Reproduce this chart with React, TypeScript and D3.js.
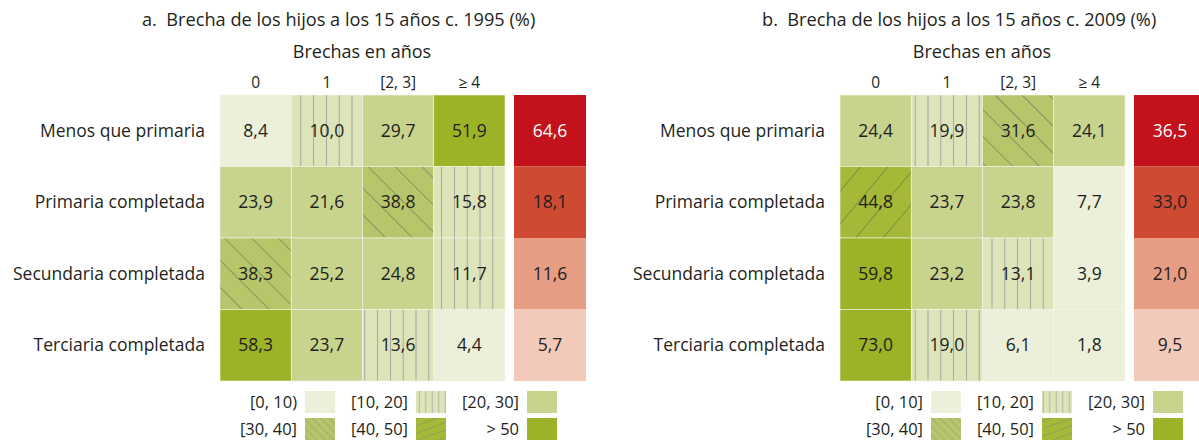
import React, { useEffect, useRef } from 'react';
import * as d3 from 'd3';

// categorías
const rowLabels = ['Menos que primaria', 'Primaria completada', 'Secundaria completada', 'Terciaria completada'];
const colLabels = ['0', '1', '[2, 3]', '≥ 4'];

// valores (%)
const values1995 = [
  [8.4, 10.0, 29.7, 51.9],
  [23.9, 21.6, 38.8, 15.8],
  [38.3, 25.2, 24.8, 11.7],
  [58.3, 23.7, 13.6, 4.4],
];
const totals1995 = [64.6, 18.1, 11.6, 5.7];

const values2009 = [
  [24.4, 19.9, 31.6, 24.1],
  [44.8, 23.7, 23.8, 7.7],
  [59.8, 23.2, 13.1, 3.9],
  [73.0, 19.0, 6.1, 1.8],
];
const totals2009 = [36.5, 33.0, 21.0, 9.5];

const legendLabels1995 = ['[0, 10)', '[10, 20]', '[20, 30]', '[30, 40]', '[40, 50]', '> 50'];
const legendLabels2009 = ['[0, 10]', '[10, 20]', '[20, 30]', '[30, 40]', '[40, 50]', '> 50'];

const titles = ['a.  Brecha de los hijos a los 15 años c. 1995 (%)', 'b.  Brecha de los hijos a los 15 años c. 2009 (%)'];
const subtitle = 'Brechas en años';

const FONT = '"Open Sans", sans-serif';
const greens = ['#ECEFD9', '#DEE4BA', '#C8D38E', '#B7C66A', '#A6B838', '#9CB227'];
const reds = ['#C3121C', '#CE4A33', '#E79D84', '#F3C9B9'];

const fmt = (v: number) => d3.format('.1f')(v).replace('.', ',');

const App = () => {
  const ref = useRef<SVGSVGElement>(null);

  useEffect(() => {
    const svg = d3.select(ref.current);
    svg.selectAll('*').remove();

    const bin = d3.scaleThreshold<number, number>().domain([10, 20, 30, 40, 50]).range([0, 1, 2, 3, 4, 5]);

    // patrones
    const defs = svg.append('defs');
    const mkPattern = (id: string, size: number, angle: number, bg: string, stroke: string, sw = 1) => {
      const p = defs.append('pattern')
        .attr('id', id)
        .attr('patternUnits', 'userSpaceOnUse')
        .attr('width', size)
        .attr('height', size)
        .attr('patternTransform', `rotate(${angle})`);
      p.append('rect').attr('width', size).attr('height', size).attr('fill', bg);
      p.append('line').attr('x1', size / 2).attr('x2', size / 2).attr('y1', 0).attr('y2', size)
        .attr('stroke', stroke).attr('stroke-width', sw);
    };
    mkPattern('p1', 12.8, 0, greens[1], '#A4A69A');
    mkPattern('p3', 19, -45, greens[3], '#808C5E', 0.9);
    mkPattern('p4', 21, 40, greens[4], '#7A8A3C', 0.9);
    mkPattern('lp1', 6.5, 0, greens[1], '#B0B2A6');
    mkPattern('lp3', 6, -45, greens[3], '#95A070', 0.8);
    mkPattern('lp4', 7, 70, greens[4], '#8C9A5A', 0.8);

    const fillFor = (v: number) => {
      const b = bin(v);
      if (b === 1) return 'url(#p1)';
      if (b === 3) return 'url(#p3)';
      if (b === 4) return 'url(#p4)';
      return greens[b];
    };
    const legendFill = (i: number) => {
      if (i === 1) return 'url(#lp1)';
      if (i === 3) return 'url(#lp3)';
      if (i === 4) return 'url(#lp4)';
      return greens[i];
    };

    const panels = [
      { gx: 220, values: values1995, totals: totals1995, title: titles[0], legend: legendLabels1995, lx: 305 },
      { gx: 840, values: values2009, totals: totals2009, title: titles[1], legend: legendLabels2009, lx: 931 },
    ];

    panels.forEach((pn) => {
      const g = svg.append('g');
      const x = d3.scaleBand().domain(colLabels).range([pn.gx, pn.gx + 285]);
      const y = d3.scaleBand().domain(rowLabels).range([95, 381]);
      const redX = pn.gx + 294;

      g.append('text').attr('x', pn.gx - 78).attr('y', 26).text(pn.title)
        .attr('xml:space', 'preserve').style('white-space', 'pre')
        .attr('font-size', 18.2).attr('fill', '#231F20');
      g.append('text').attr('x', pn.gx + 142).attr('y', 58).attr('text-anchor', 'middle').text(subtitle)
        .attr('font-size', 18).attr('fill', '#231F20');

      g.selectAll('.hdr').data(colLabels).enter().append('text')
        .attr('x', (d) => x(d)! + x.bandwidth() / 2)
        .attr('y', 88)
        .attr('text-anchor', 'middle')
        .attr('font-size', 15.5)
        .attr('fill', '#231F20')
        .text((d) => d);

      g.selectAll('.rl').data(rowLabels).enter().append('text')
        .attr('x', pn.gx - 15)
        .attr('y', (d) => y(d)! + y.bandwidth() / 2)
        .attr('dy', '0.35em')
        .attr('text-anchor', 'end')
        .attr('font-size', 17.5)
        .attr('fill', '#231F20')
        .text((d) => d);

      pn.values.forEach((row, ri) => {
        row.forEach((v, ci) => {
          const cx = x(colLabels[ci])!;
          const cy = y(rowLabels[ri])!;
          g.append('rect')
            .attr('x', cx).attr('y', cy)
            .attr('width', x.bandwidth()).attr('height', y.bandwidth())
            .attr('fill', fillFor(v))
            .attr('stroke', '#F4F6EA').attr('stroke-width', 0.6);
          g.append('text')
            .attr('x', cx + x.bandwidth() / 2)
            .attr('y', cy + y.bandwidth() / 2)
            .attr('dy', '0.35em')
            .attr('text-anchor', 'middle')
            .attr('font-size', 17.5)
            .attr('fill', '#231F20')
            .text(fmt(v));
        });
      });

      pn.totals.forEach((v, ri) => {
        const cy = y(rowLabels[ri])!;
        g.append('rect')
          .attr('x', redX).attr('y', cy)
          .attr('width', 72).attr('height', y.bandwidth())
          .attr('fill', reds[ri]);
        g.append('text')
          .attr('x', redX + 36)
          .attr('y', cy + y.bandwidth() / 2)
          .attr('dy', '0.35em')
          .attr('text-anchor', 'middle')
          .attr('font-size', 17.5)
          .attr('fill', ri === 0 ? '#FFFFFF' : '#231F20')
          .text(fmt(v));
      });

      // leyenda
      pn.legend.forEach((lab, i) => {
        const col = i % 3;
        const r = Math.floor(i / 3);
        const sx = pn.lx + col * 111;
        const sy = 391 + r * 27;
        g.append('rect').attr('x', sx).attr('y', sy).attr('width', 30).attr('height', 22).attr('fill', legendFill(i));
        g.append('text')
          .attr('x', sx - 8)
          .attr('y', sy + 11)
          .attr('dy', '0.35em')
          .attr('text-anchor', 'end')
          .attr('font-size', 16.5)
          .attr('fill', '#231F20')
          .text(lab);
      });
    });
  }, []);

  return (
    <svg
      ref={ref}
      width={1199}
      height={440}
      style={{ position: 'absolute', left: 0, top: 0, background: '#fff', fontFamily: FONT }}
    />
  );
};

export default App;
